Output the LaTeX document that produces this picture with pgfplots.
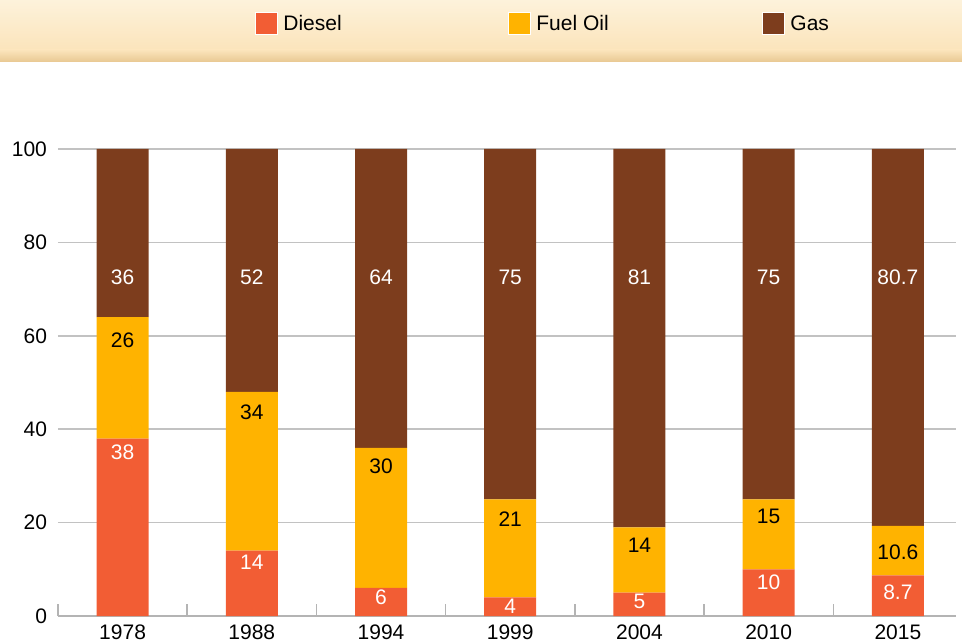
\documentclass[border=0pt]{standalone}
\usepackage{fontspec}
\setmainfont{Liberation Sans}
\usepackage{pgfplots}
\pgfplotsset{compat=1.18}
\usepackage{pgfplotstable}
\usetikzlibrary{calc}

\definecolor{diesel}{HTML}{F25D34}
\definecolor{fueloil}{HTML}{FFB300}
\definecolor{gas}{HTML}{7D3D1D}
\definecolor{gridgray}{HTML}{C2C2C2}
\definecolor{axisgray}{HTML}{B4B4B4}
\definecolor{bandtop}{HTML}{FDF2DB}
\definecolor{bandmid}{HTML}{FBE4BB}
\definecolor{bandbot}{HTML}{E8C892}

% shares of generation, one row per year
\pgfplotstableread{
x diesel fuel gas
0 38  26   36
1 14  34   52
2 6   30   64
3 4   21   75
4 5   14   81
5 10  15   75
6 8.7 10.6 80.7
}\shares

% where the value labels sit
\pgfplotstableread{
x y l
0 35.1 38
1 11.6 14
2 4.1 6
3 2.1 4
4 3.2 5
5 7.3 10
6 5.1 8.7
}\dieselLab
\pgfplotstableread{
x y l
0 59.1 26
1 43.7 34
2 32.1 30
3 20.8 21
4 15.2 14
5 21.4 15
6 13.7 10.6
}\fuelLab
\pgfplotstableread{
x y l
0 72.5 36
1 72.5 52
2 72.5 64
3 72.5 75
4 72.5 81
5 72.5 75
6 72.5 80.7
}\gasLab

\newcommand{\lblfont}{\fontsize{10.5}{12.5}\selectfont}

\begin{document}
\begin{tikzpicture}
\pgfplotsset{base/.style={scale only axis, width=449pt, height=233.5pt,
    xmin=-0.5, xmax=6.45, ymin=0, ymax=100}}

\begin{axis}[base, name=a,
    ybar stacked, bar width=26pt,
    axis x line*=bottom, axis y line*=left,
    y axis line style={draw=none},
    x axis line style={draw=axisgray, line width=0.75pt},
    xtick={0,...,6},
    xticklabels={1978,1988,1994,1999,2004,2010,2015},
    ytick={0,20,...,100},
    major tick length=0pt,
    xtick align=inside,
    extra x ticks={-0.5,0.5,...,5.5},
    extra x tick labels={},
    extra x tick style={major tick length=6pt,
        tick style={draw=axisgray, line width=0.75pt}},
    ymajorgrids,
    grid style={draw=gridgray, line width=0.75pt},
    tick label style={font=\lblfont, text=black},
    /pgf/number format/assume math mode=true,
    yticklabel style={xshift=-2pt},
    xticklabel style={yshift=-1pt},
]
    \addplot[fill=diesel, draw=none] table[x=x, y=diesel] {\shares};
    \addplot[fill=fueloil, draw=none] table[x=x, y=fuel] {\shares};
    \addplot[fill=gas, draw=none] table[x=x, y=gas] {\shares};
\end{axis}

\begin{axis}[base, hide axis]
    \addplot[draw=none, no marks, nodes near coords, point meta=explicit symbolic,
        every node near coord/.style={anchor=center, text=white, font=\lblfont}]
        table[x=x, y=y, meta=l] {\dieselLab};
    \addplot[draw=none, no marks, nodes near coords, point meta=explicit symbolic,
        every node near coord/.style={anchor=center, text=black, font=\lblfont}]
        table[x=x, y=y, meta=l] {\fuelLab};
    \addplot[draw=none, no marks, nodes near coords, point meta=explicit symbolic,
        every node near coord/.style={anchor=center, text=white, font=\lblfont}]
        table[x=x, y=y, meta=l] {\gasLab};
\end{axis}

% legend band across the top, in pixel units of the reference
\coordinate (O) at ($(a.north west)+(-29pt,74.5pt)$);
\begin{scope}[shift={(O)}, x=0.5pt, y=0.5pt]
    \shade[top color=bandtop, bottom color=bandmid] (0,0) rectangle (962,-50);
    \shade[top color=bandmid, bottom color=bandbot] (0,-50) rectangle (962,-62);
    \foreach \xx/\cc/\lab in {255/diesel/Diesel, 508/fueloil/Fuel Oil, 762/gas/Gas} {
        \fill[white] (\xx,-12) rectangle (\xx+23,-35);
        \fill[\cc] (\xx+1,-13) rectangle (\xx+22,-34);
        \node[anchor=west, inner sep=0pt, font=\lblfont] at (\xx+28,-23) {\lab};
    }
    \pgfresetboundingbox
    \path[use as bounding box] (0,0) rectangle (962,-643);
\end{scope}
\end{tikzpicture}
\end{document}
